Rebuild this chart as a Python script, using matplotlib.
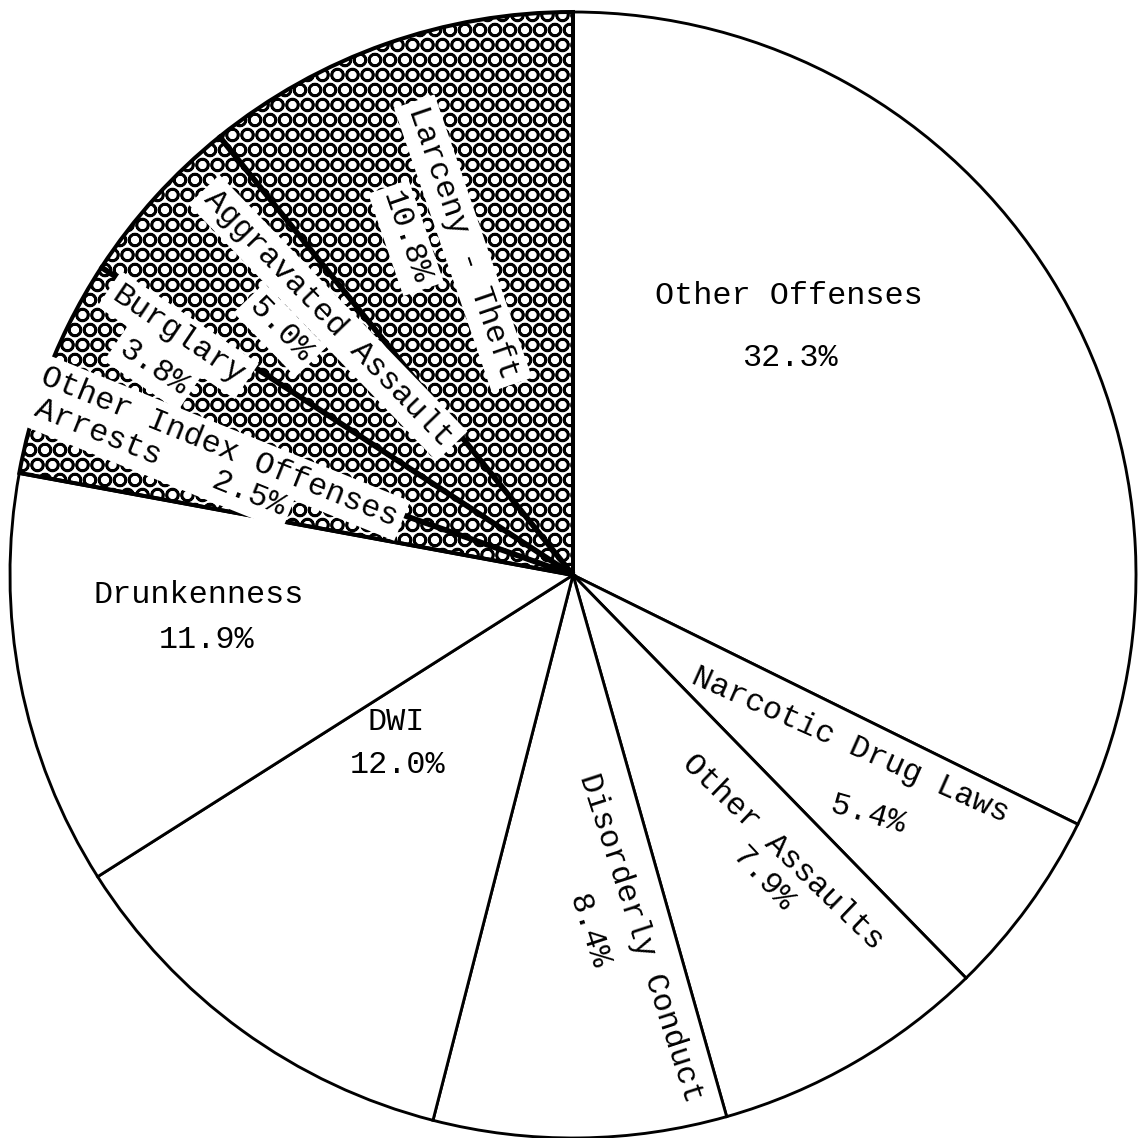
import numpy as np
import matplotlib
matplotlib.use("Agg")
import matplotlib.pyplot as plt
import matplotlib.hatch

# arrest shares, clockwise from 12 o'clock
categories = ["Other Offenses", "Narcotic Drug Laws", "Other Assaults",
              "Disorderly Conduct", "DWI", "Drunkenness",
              "Other Index Offenses Arrests", "Burglary",
              "Aggravated Assault", "Larceny - Theft"]
shares = [32.3, 5.4, 7.9, 8.4, 12.0, 11.9, 2.5, 3.8, 5.0, 10.8]
index_offense = [False, False, False, False, False, False, True, True, True, True]

W, H, DPI = 1139, 1138, 90
plt.rcParams["hatch.linewidth"] = 2.0
plt.rcParams["font.family"] = ["Liberation Mono", "DejaVu Sans Mono"]
# bigger rings in the 'O' hatch, like the printed dot screen
matplotlib.hatch.LargeCircles.size = 0.4

fig = plt.figure(figsize=(W / DPI, H / DPI), dpi=DPI)
ax = fig.add_axes([0, 0, 1, 1])

cx, cy, r = 573, H - 575, 563
wedges, _ = ax.pie(shares, startangle=90, counterclock=False, center=(cx, cy),
                   radius=r, wedgeprops=dict(facecolor="white", edgecolor="black",
                                             linewidth=2.3))
for w, idx in zip(wedges, index_offense):
    if idx:
        w.set_hatch("O")
        w.set_linewidth(3.2)

# heavy dividers between the index offense slices
for a, b in zip(wedges[6:-1], wedges[7:]):
    ang = np.deg2rad(a.theta1)
    ax.plot([cx, cx + r * np.cos(ang)], [cy, cy + r * np.sin(ang)],
            color="black", lw=4.5, solid_capstyle="butt", zorder=5)
for ang in [wedges[6].theta2, wedges[-1].theta1]:
    ang = np.deg2rad(ang)
    ax.plot([cx, cx + r * np.cos(ang)], [cy, cy + r * np.sin(ang)],
            color="black", lw=3.0, solid_capstyle="butt", zorder=5)

fs = 25.5
box = dict(boxstyle="square,pad=0.2", fc="white", ec="none")

# label text, centre in picture pixels, rotation, white box
labels = [
    ("Other Offenses", 789, 296, 0, False),
    ("32.3%", 790, 358, 0, False),
    ("Narcotic Drug Laws", 850, 745, -24, False),
    ("5.4%", 868, 815, -16, False),
    ("Other Assaults", 783, 852, -44, False),
    ("7.9%", 762, 880, -47, False),
    ("Disorderly Conduct", 640, 938, -72, False),
    ("8.4%", 588, 932, -72, False),
    ("DWI", 396, 722, 0, False),
    ("12.0%", 398, 765, 0, False),
    ("Drunkenness", 199, 595, 0, False),
    ("11.9%", 207, 640, 0, False),
    ("Other Index Offenses", 219, 447, -22, True),
    ("Arrests   2.5%", 160, 458, -22, True),
    ("Burglary", 178, 335, -34, True),
    ("3.8%", 153, 368, -34, True),
    ("Aggravated Assault", 328, 318, -46, True),
    ("5.0%", 280, 330, -46, True),
    ("Larceny - Theft", 463, 243, -71, True),
    ("10.8%", 406, 238, -71, True),
]
for txt, x, y, rot, boxed in labels:
    ax.text(x, H - y, txt, fontsize=fs, rotation=rot, rotation_mode="anchor",
            ha="center", va="center", color="black", zorder=6,
            bbox=box if boxed else None)

ax.set_xlim(0, W)
ax.set_ylim(0, H)
ax.set_aspect("equal")
ax.axis("off")
fig.savefig("out.png", dpi=DPI, facecolor="white")
